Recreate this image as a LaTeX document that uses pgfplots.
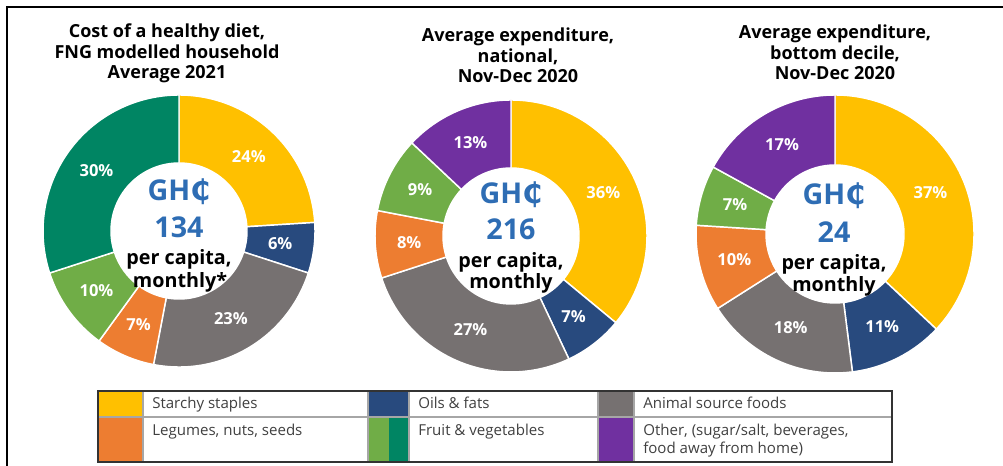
\documentclass[border=0pt]{standalone}
\usepackage{pgfplots}
\pgfplotsset{compat=1.18}
\usepackage{pgfplotstable}
\usepackage{fontspec}
\setmainfont{Open Sans}
\newfontfamily\dejavu{DejaVu Sans}

\definecolor{cStarchy}{HTML}{FFC000}
\definecolor{cOils}{HTML}{284A7E}
\definecolor{cAnimal}{HTML}{767171}
\definecolor{cLegumes}{HTML}{ED7D31}
\definecolor{cFruit}{HTML}{70AD47}
\definecolor{cVeg}{HTML}{008563}
\definecolor{cOther}{HTML}{7030A0}
\definecolor{cBlue}{HTML}{2E6DB4}
\definecolor{cLeg}{HTML}{404040}

\pgfplotstableread{
val col
24 cStarchy
6 cOils
23 cAnimal
7 cLegumes
10 cFruit
30 cVeg
}\donutA
\pgfplotstableread{
val col
36 cStarchy
7 cOils
27 cAnimal
8 cLegumes
9 cFruit
13 cOther
}\donutB
\pgfplotstableread{
val col
37 cStarchy
11 cOils
18 cAnimal
10 cLegumes
7 cFruit
17 cOther
}\donutC

% #1 table, #2 cx, #3 cy (pixels, down), #4 outer r, #5 inner r
\newcommand\donut[5]{%
  \pgfplotstablegetrowsof{#1}%
  \pgfmathtruncatemacro\nrows{\pgfplotsretval-1}%
  \def\acur{90}%
  \pgfmathsetmacro\ro{#4*0.75}%
  \pgfmathsetmacro\ri{#5*0.75}%
  \pgfmathsetmacro\rmid{(#4+#5)/2*0.75}%
  \pgfplotsforeachungrouped \ii in {0,...,\nrows}{%
    \pgfplotstablegetelem{\ii}{val}\of{#1}\let\sval\pgfplotsretval
    \pgfplotstablegetelem{\ii}{col}\of{#1}\let\scol\pgfplotsretval
    \pgfmathsetmacro\anext{\acur-3.6*\sval}%
    \pgfmathsetmacro\amid{(\acur+\anext)/2}%
    \filldraw[fill=\scol, draw=white, line width=1.1pt]
      ([shift={(\acur:\ro pt)}]axis cs:#2,-#3)
      arc[start angle=\acur, end angle=\anext, radius=\ro pt]
      -- ([shift={(\anext:\ri pt)}]axis cs:#2,-#3)
      arc[start angle=\anext, end angle=\acur, radius=\ri pt] -- cycle;
    \node[text=white, font=\bfseries\fontsize{12.4}{14}\selectfont]
      at ([shift={(\amid:\rmid pt)}]axis cs:#2,-#3) {\sval\%};
    \let\acur\anext
  }%
}

\newcommand\ced{{\dejavu\bfseries ₵}}
\tikzset{
  ttl/.style={anchor=base, font=\bfseries\fontsize{13.5}{15}\selectfont, text=black, inner sep=0pt},
  big/.style={anchor=base, font=\bfseries\fontsize{21.5}{24}\selectfont, text=cBlue, inner sep=0pt},
  mid/.style={anchor=base, font=\bfseries\fontsize{14.8}{17}\selectfont, text=black, inner sep=0pt},
  leg/.style={anchor=base west, font=\fontsize{11.3}{13}\selectfont, text=cLeg, inner sep=0pt},
}

\begin{document}
\begin{tikzpicture}
\begin{axis}[
  x=0.75pt, y=0.75pt,
  xmin=0, xmax=1003, ymin=-466, ymax=0,
  hide axis, clip=false,
]
\pgfplotsextra{
  % frame
  \draw[black, line width=1.6pt] (axis cs:7,-466) -- (axis cs:7,-7) -- (axis cs:1003,-7);
  % donuts
  \donut{\donutA}{179}{231}{136}{68}
  \donut{\donutB}{511}{236}{136}{68}
  \donut{\donutC}{835}{234}{139}{69}
  % titles
  \node[ttl] at (axis cs:167,-38) {Cost of a healthy diet,};
  \node[ttl] at (axis cs:167,-58.5) {FNG modelled household};
  \node[ttl] at (axis cs:167,-79) {Average 2021};
  \node[ttl] at (axis cs:518,-42) {Average expenditure,};
  \node[ttl] at (axis cs:518,-62.5) {national,};
  \node[ttl] at (axis cs:518,-83) {Nov-Dec 2020};
  \node[ttl] at (axis cs:835,-39) {Average expenditure,};
  \node[ttl] at (axis cs:835,-59.5) {bottom decile,};
  \node[ttl] at (axis cs:835,-80) {Nov-Dec 2020};
  % centre text
  \node[big] at (axis cs:179,-201) {GH\ced};
  \node[big] at (axis cs:179,-238) {134};
  \node[mid] at (axis cs:179,-265) {per capita,};
  \node[mid] at (axis cs:180,-288) {monthly*};
  \node[big] at (axis cs:511,-204) {GH\ced};
  \node[big] at (axis cs:511,-240) {216};
  \node[mid] at (axis cs:511,-268) {per capita,};
  \node[mid] at (axis cs:511,-289) {monthly};
  \node[big] at (axis cs:834,-205) {GH\ced};
  \node[big] at (axis cs:834,-243) {24};
  \node[mid] at (axis cs:834,-270) {per capita,};
  \node[mid] at (axis cs:834,-292) {monthly};
  % legend swatches
  \fill[cStarchy] (axis cs:98,-391) rectangle (axis cs:143,-417);
  \fill[cOils] (axis cs:368,-391) rectangle (axis cs:409,-417);
  \fill[cAnimal] (axis cs:598,-391) rectangle (axis cs:634,-417);
  \fill[cLegumes] (axis cs:98,-417) rectangle (axis cs:143,-462);
  \fill[cFruit] (axis cs:368,-417) rectangle (axis cs:389,-462);
  \fill[cVeg] (axis cs:389,-417) rectangle (axis cs:409,-462);
  \fill[cOther] (axis cs:598,-417) rectangle (axis cs:634,-462);
  % legend grid
  \draw[gray!70, line width=0.8pt] (axis cs:98,-417) -- (axis cs:892,-417);
  \foreach \xx in {143,368,409,598,634}{\draw[gray!70, line width=0.8pt] (axis cs:\xx,-391) -- (axis cs:\xx,-462);}
  \draw[black!80, line width=0.8pt] (axis cs:98,-391) rectangle (axis cs:892,-462);
  % legend text
  \node[leg] at (axis cs:152,-409) {Starchy staples};
  \node[leg] at (axis cs:418,-409) {Oils \& fats};
  \node[leg] at (axis cs:643,-409) {Animal source foods};
  \node[leg] at (axis cs:152,-436) {Legumes, nuts, seeds};
  \node[leg] at (axis cs:418,-436) {Fruit \& vegetables};
  \node[leg] at (axis cs:643,-436) {Other, (sugar/salt, beverages,};
  \node[leg] at (axis cs:643,-454) {food away from home)};
}
\end{axis}
\pgfresetboundingbox
\path[use as bounding box] (current axis.south west) rectangle (current axis.north east);
\end{tikzpicture}
\end{document}
